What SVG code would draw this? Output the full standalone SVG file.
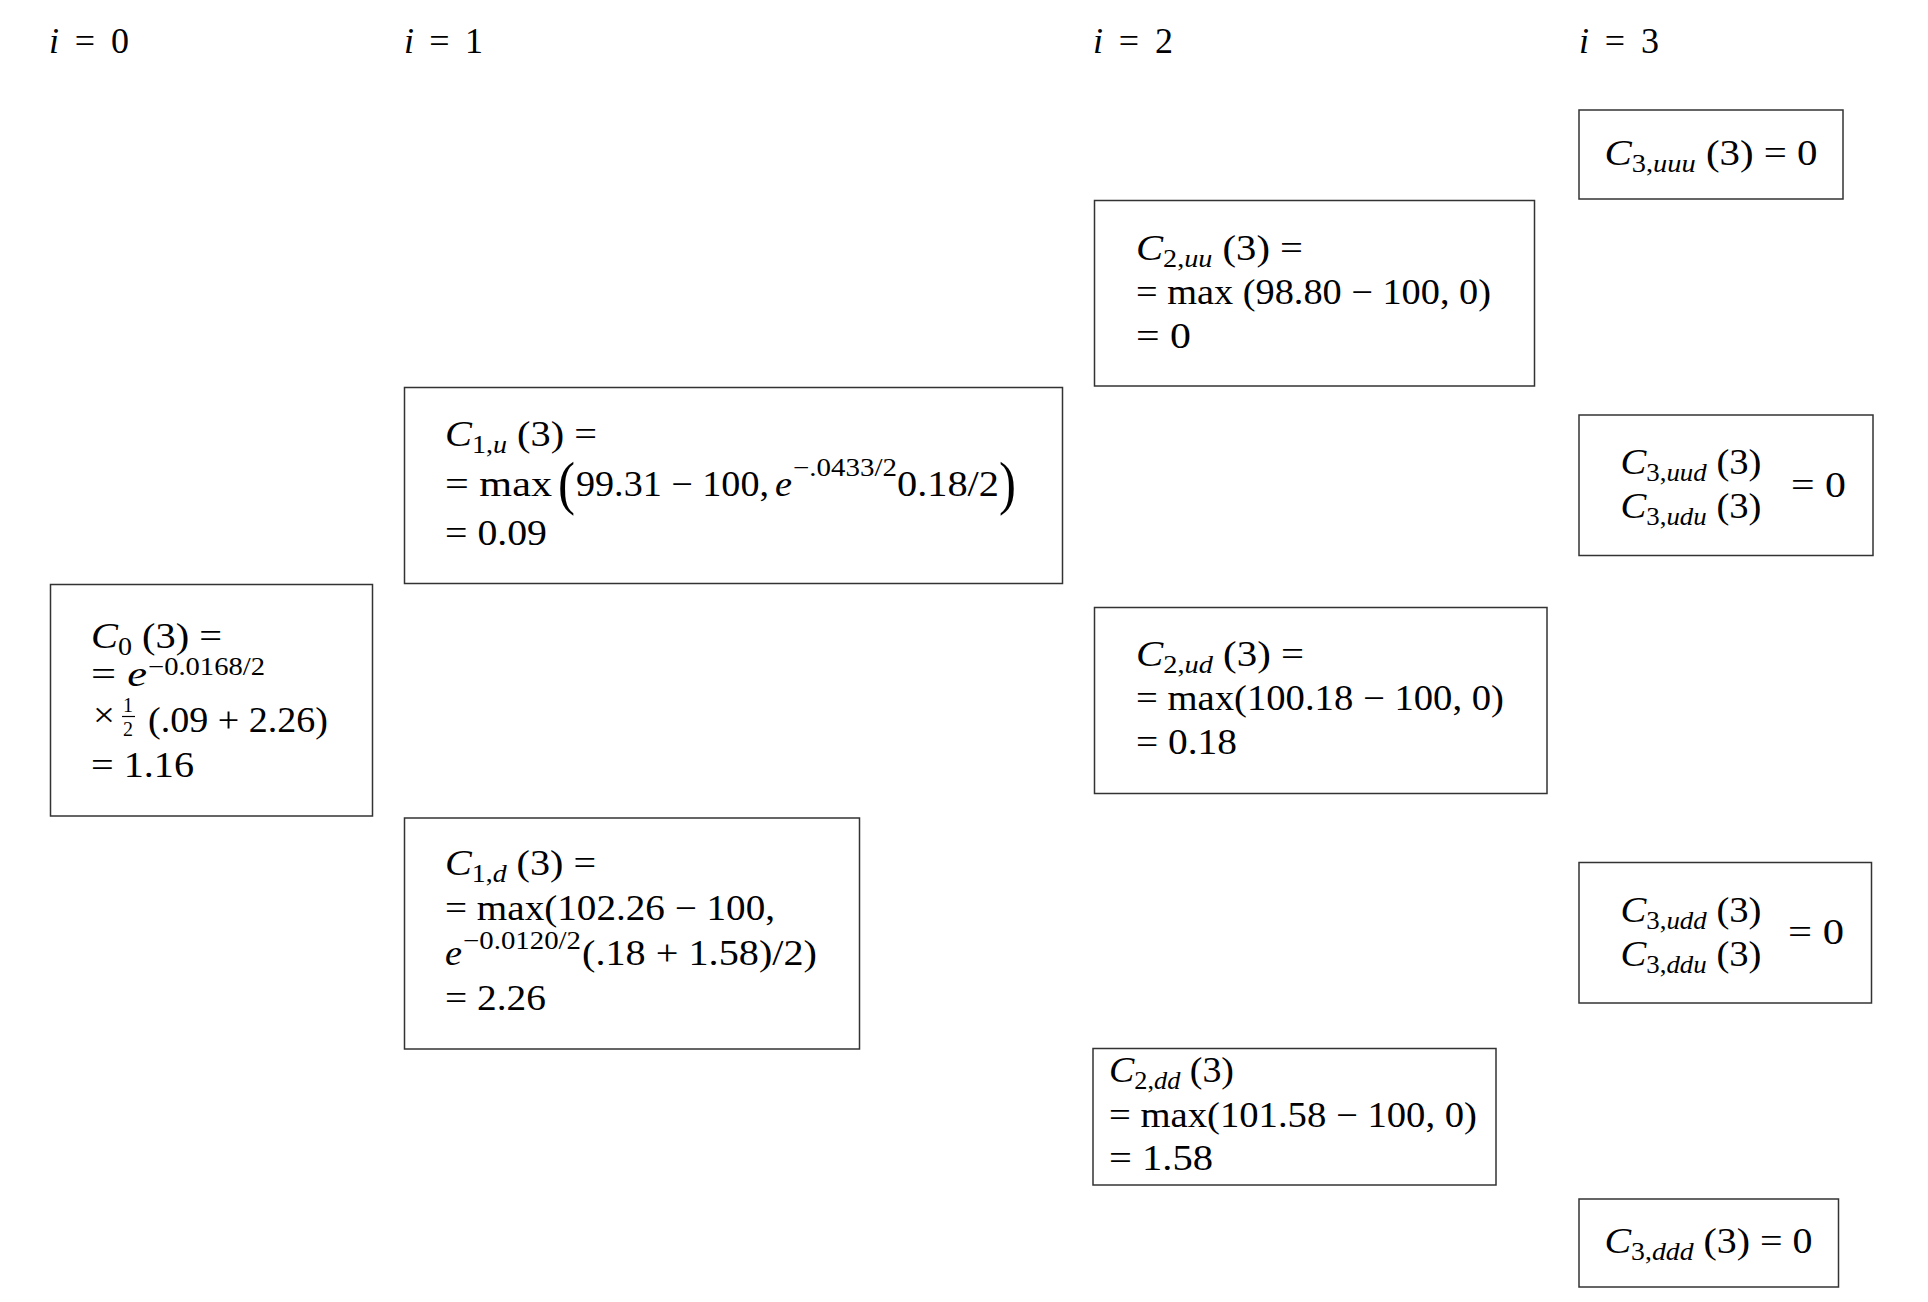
<svg xmlns="http://www.w3.org/2000/svg" width="1928" height="1302" viewBox="0 0 1928 1302">
<style>
  text { font-family: "Liberation Serif", "Times New Roman", serif; font-size: 36px; fill: #000; }
  .i { font-style: italic; }
  .s { font-size: 25px; }
  .big { font-size: 60px; }
  .frac { font-size: 20px; }
  rect.box { fill: #fff; stroke: #333; stroke-width: 1.5; }
  line.bar { stroke: #000; stroke-width: 1.2; }
</style>
<rect x="0" y="0" width="1928" height="1302" fill="#fff"/>

<g id="headers">
  <text x="49" y="53" textLength="80"><tspan class="i">i</tspan> = 0</text>
  <text x="404" y="53" textLength="79"><tspan class="i">i</tspan> = 1</text>
  <text x="1093" y="53" textLength="80"><tspan class="i">i</tspan> = 2</text>
  <text x="1579" y="53" textLength="80"><tspan class="i">i</tspan> = 3</text>
</g>

<g id="connectors"></g>

<g id="node-C0">
  <rect class="box" x="50.5" y="584.5" width="322" height="231.5"/>
  <text x="91" y="648" textLength="131" lengthAdjust="spacingAndGlyphs"><tspan class="i">C</tspan><tspan class="s" dy="7">0</tspan><tspan dy="-7"> (3) =</tspan></text>
  <text x="91" y="686" textLength="56" lengthAdjust="spacingAndGlyphs">= <tspan class="i">e</tspan></text>
  <text class="s" x="148" y="675" textLength="117" lengthAdjust="spacingAndGlyphs">−0.0168/2</text>
  <text x="93" y="727" textLength="22" lengthAdjust="spacingAndGlyphs">×</text>
  <text class="frac" x="123" y="712">1</text>
  <line class="bar" x1="122" y1="716.5" x2="135" y2="716.5"/>
  <text class="frac" x="123" y="736">2</text>
  <text x="148" y="732" textLength="180" lengthAdjust="spacingAndGlyphs">(.09 + 2.26)</text>
  <text x="91" y="777" textLength="103" lengthAdjust="spacingAndGlyphs">= 1.16</text>
</g>

<g id="node-C1u">
  <rect class="box" x="404.5" y="387.5" width="658" height="196"/>
  <text x="445" y="446" textLength="152" lengthAdjust="spacingAndGlyphs"><tspan class="i">C</tspan><tspan class="s" dy="7">1,<tspan class="i">u</tspan></tspan><tspan dy="-7"> (3) =</tspan></text>
  <text x="445" y="496" textLength="107" lengthAdjust="spacingAndGlyphs">= max</text>
  <text class="big" x="558" y="502.5" textLength="17" lengthAdjust="spacingAndGlyphs">(</text>
  <text x="576" y="496" textLength="193" lengthAdjust="spacingAndGlyphs">99.31 − 100,</text>
  <text class="i" x="775" y="496" textLength="17" lengthAdjust="spacingAndGlyphs">e</text>
  <text class="s" x="793" y="476" textLength="104" lengthAdjust="spacingAndGlyphs">−.0433/2</text>
  <text x="897" y="496" textLength="102" lengthAdjust="spacingAndGlyphs">0.18/2</text>
  <text class="big" x="999" y="502.5" textLength="17" lengthAdjust="spacingAndGlyphs">)</text>
  <text x="445" y="545" textLength="102" lengthAdjust="spacingAndGlyphs">= 0.09</text>
</g>

<g id="node-C1d">
  <rect class="box" x="404.5" y="818" width="455" height="231"/>
  <text x="445" y="875" textLength="151" lengthAdjust="spacingAndGlyphs"><tspan class="i">C</tspan><tspan class="s" dy="7">1,<tspan class="i">d</tspan></tspan><tspan dy="-7"> (3) =</tspan></text>
  <text x="445" y="920" textLength="330" lengthAdjust="spacingAndGlyphs">= max(102.26 − 100,</text>
  <text class="i" x="445" y="965" textLength="17" lengthAdjust="spacingAndGlyphs">e</text>
  <text class="s" x="463" y="949" textLength="118" lengthAdjust="spacingAndGlyphs">−0.0120/2</text>
  <text x="582" y="965" textLength="235" lengthAdjust="spacingAndGlyphs">(.18 + 1.58)/2)</text>
  <text x="445" y="1010" textLength="101" lengthAdjust="spacingAndGlyphs">= 2.26</text>
</g>

<g id="node-C2uu">
  <rect class="box" x="1094.5" y="200.5" width="440" height="185.5"/>
  <text x="1136" y="260" textLength="167" lengthAdjust="spacingAndGlyphs"><tspan class="i">C</tspan><tspan class="s" dy="7">2,<tspan class="i">uu</tspan></tspan><tspan dy="-7"> (3) =</tspan></text>
  <text x="1136" y="304" textLength="355" lengthAdjust="spacingAndGlyphs">= max (98.80 − 100, 0)</text>
  <text x="1136" y="348" textLength="55" lengthAdjust="spacingAndGlyphs">= 0</text>
</g>

<g id="node-C2ud">
  <rect class="box" x="1094.5" y="607.5" width="452.5" height="186"/>
  <text x="1136" y="666" textLength="168" lengthAdjust="spacingAndGlyphs"><tspan class="i">C</tspan><tspan class="s" dy="7">2,<tspan class="i">ud</tspan></tspan><tspan dy="-7"> (3) =</tspan></text>
  <text x="1136" y="710" textLength="368" lengthAdjust="spacingAndGlyphs">= max(100.18 − 100, 0)</text>
  <text x="1136" y="754" textLength="101" lengthAdjust="spacingAndGlyphs">= 0.18</text>
</g>

<g id="node-C2dd">
  <rect class="box" x="1093" y="1048.5" width="403" height="136.5"/>
  <text x="1109" y="1082" textLength="125" lengthAdjust="spacingAndGlyphs"><tspan class="i">C</tspan><tspan class="s" dy="7">2,<tspan class="i">dd</tspan></tspan><tspan dy="-7"> (3)</tspan></text>
  <text x="1109" y="1127" textLength="368" lengthAdjust="spacingAndGlyphs">= max(101.58 − 100, 0)</text>
  <text x="1109" y="1170" textLength="104" lengthAdjust="spacingAndGlyphs">= 1.58</text>
</g>

<g id="node-C3uuu">
  <rect class="box" x="1579" y="110" width="264" height="89"/>
  <text x="1604.5" y="164.5" textLength="213" lengthAdjust="spacingAndGlyphs"><tspan class="i">C</tspan><tspan class="s" dy="7">3,<tspan class="i">uuu</tspan></tspan><tspan dy="-7"> (3) = 0</tspan></text>
</g>

<g id="node-C3uud-udu">
  <rect class="box" x="1579" y="415" width="294" height="140.5"/>
  <text x="1620.5" y="474" textLength="141" lengthAdjust="spacingAndGlyphs"><tspan class="i">C</tspan><tspan class="s" dy="7">3,<tspan class="i">uud</tspan></tspan><tspan dy="-7"> (3)</tspan></text>
  <text x="1620.5" y="518" textLength="141" lengthAdjust="spacingAndGlyphs"><tspan class="i">C</tspan><tspan class="s" dy="7">3,<tspan class="i">udu</tspan></tspan><tspan dy="-7"> (3)</tspan></text>
  <text x="1791" y="496.5" textLength="55" lengthAdjust="spacingAndGlyphs">= 0</text>
</g>

<g id="node-C3udd-ddu">
  <rect class="box" x="1579" y="862.5" width="292.5" height="140.5"/>
  <text x="1620.5" y="921.5" textLength="141" lengthAdjust="spacingAndGlyphs"><tspan class="i">C</tspan><tspan class="s" dy="7">3,<tspan class="i">udd</tspan></tspan><tspan dy="-7"> (3)</tspan></text>
  <text x="1620.5" y="966" textLength="141" lengthAdjust="spacingAndGlyphs"><tspan class="i">C</tspan><tspan class="s" dy="7">3,<tspan class="i">ddu</tspan></tspan><tspan dy="-7"> (3)</tspan></text>
  <text x="1788" y="944" textLength="56" lengthAdjust="spacingAndGlyphs">= 0</text>
</g>

<g id="node-C3ddd">
  <rect class="box" x="1579" y="1199" width="259.5" height="88"/>
  <text x="1604.5" y="1252.5" textLength="208" lengthAdjust="spacingAndGlyphs"><tspan class="i">C</tspan><tspan class="s" dy="7">3,<tspan class="i">ddd</tspan></tspan><tspan dy="-7"> (3) = 0</tspan></text>
</g>
</svg>
